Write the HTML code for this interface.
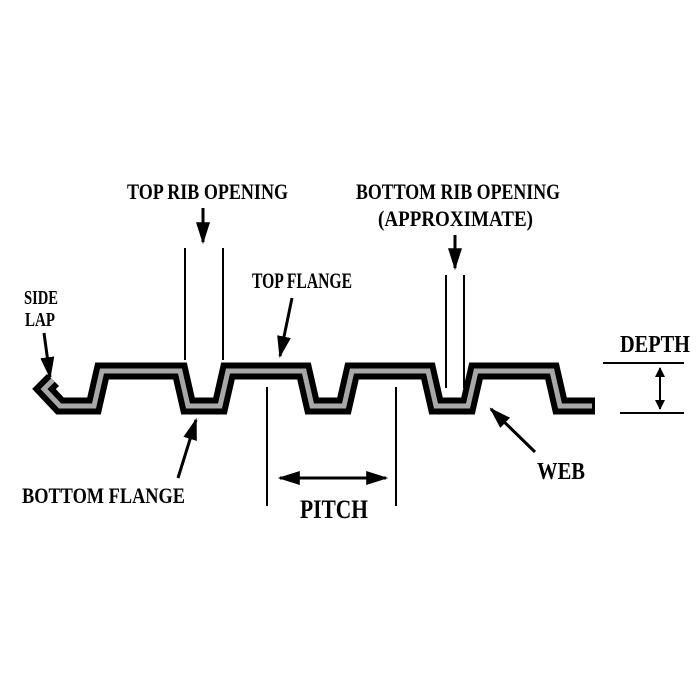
<!DOCTYPE html>
<html><head><style>body{margin:0;background:#fff}svg{display:block}</style></head><body>
<svg width="700" height="700" viewBox="0 0 700 700" xmlns="http://www.w3.org/2000/svg">
<defs>
<marker id="ah" viewBox="0 0 10 10" refX="9" refY="5" markerWidth="10" markerHeight="10" markerUnits="userSpaceOnUse" orient="auto-start-reverse"><path d="M0,0 L10,5 L0,10 z" fill="#000"/></marker>
<marker id="big" viewBox="0 0 10 10" refX="9" refY="5" markerWidth="22" markerHeight="14" markerUnits="userSpaceOnUse" orient="auto-start-reverse" preserveAspectRatio="none"><path d="M0,0 L10,5 L0,10 z" fill="#000"/></marker>
</defs>
<g font-family="Liberation Serif, serif" font-weight="bold" font-size="22" fill="#000">
<text x="127" y="199" textLength="161" lengthAdjust="spacingAndGlyphs">TOP RIB OPENING</text>
<text x="356" y="199" textLength="204" lengthAdjust="spacingAndGlyphs">BOTTOM RIB OPENING</text>
<text x="378" y="226" textLength="155" lengthAdjust="spacingAndGlyphs">(APPROXIMATE)</text>
<text x="252" y="288" textLength="100" lengthAdjust="spacingAndGlyphs">TOP FLANGE</text>
<text x="24" y="304" font-size="20" textLength="34" lengthAdjust="spacingAndGlyphs">SIDE</text>
<text x="25" y="326" font-size="20" textLength="30" lengthAdjust="spacingAndGlyphs">LAP</text>
<text x="22" y="503" textLength="163" lengthAdjust="spacingAndGlyphs">BOTTOM FLANGE</text>
<text x="300" y="518" font-size="26" textLength="68" lengthAdjust="spacingAndGlyphs">PITCH</text>
<text x="537" y="479" font-size="24" textLength="48" lengthAdjust="spacingAndGlyphs">WEB</text>
<text x="620" y="352" font-size="24" textLength="70" lengthAdjust="spacingAndGlyphs">DEPTH</text>
</g>
<g stroke="#000" stroke-width="2" fill="none">
<line x1="185" y1="248" x2="185" y2="360"/>
<line x1="223" y1="248" x2="223" y2="360"/>
<line x1="446" y1="275" x2="446" y2="388"/>
<line x1="464" y1="275" x2="464" y2="388"/>
<line x1="267" y1="387" x2="267" y2="506"/>
<line x1="396" y1="387" x2="396" y2="506"/>
<line x1="603" y1="363" x2="684" y2="363"/>
<line x1="620" y1="413" x2="684" y2="413"/>
<line x1="203" y1="208" x2="203" y2="242" stroke-width="3" marker-end="url(#big)"/>
<line x1="455" y1="235" x2="455" y2="268" stroke-width="3" marker-end="url(#big)"/>
<line x1="292" y1="298" x2="280" y2="356" stroke-width="3" marker-end="url(#big)"/>
<line x1="44" y1="333" x2="50" y2="377" stroke-width="3" marker-end="url(#big)"/>
<line x1="178" y1="478" x2="196" y2="420" stroke-width="3" marker-end="url(#big)"/>
<line x1="535" y1="452" x2="491" y2="409" stroke-width="3" marker-end="url(#big)"/>
<line x1="280" y1="478" x2="386" y2="478" stroke-width="3" marker-start="url(#big)" marker-end="url(#big)"/>
<line x1="660" y1="368" x2="660" y2="409" stroke-width="2" marker-start="url(#ah)" marker-end="url(#ah)"/>
</g>
<path d="M53,380 L44,389 L60,406 L94,406 L102,371 L180,371 L188,406 L220,406 L228,371 L304,371 L312,406 L344,406 L352,371 L428,371 L436,406 L468,406 L476,371 L552,371 L560,406 L595,406" fill="none" stroke="#000" stroke-width="17" stroke-linejoin="miter"/>
<path d="M53,380 L44,389 L60,406 L94,406 L102,371 L180,371 L188,406 L220,406 L228,371 L304,371 L312,406 L344,406 L352,371 L428,371 L436,406 L468,406 L476,371 L552,371 L560,406 L592,406" fill="none" stroke="#a8a8a8" stroke-width="5" stroke-linejoin="miter"/>
</svg>
</body></html>
